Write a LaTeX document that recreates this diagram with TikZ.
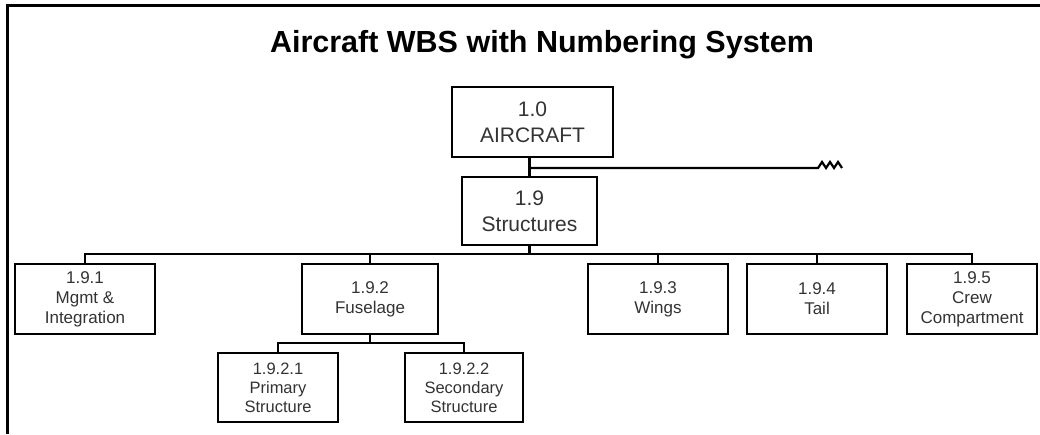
\documentclass[tikz,border=0pt]{standalone}
\usepackage{fontspec}
\setmainfont{Liberation Sans}
\begin{document}
\begin{tikzpicture}[x=1pt,y=-1pt,
  conn/.style={line width=2.2pt, draw=black},
  wbsbox/.style={draw=black, line width=2.4pt, fill=white, align=center, inner sep=0pt, text=black!80},
  topbox/.style={wbsbox, font=\fontsize{21}{26}\selectfont},
  midbox/.style={wbsbox, minimum height=70pt, font=\fontsize{17}{20}\selectfont},
  lowbox/.style={wbsbox, minimum height=69pt, font=\fontsize{16.5}{19}\selectfont},
]
\useasboundingbox (0,0) rectangle (1040,434);
% outer frame
\draw[line width=3pt] (7.5,434) -- (7.5,5.5) -- (1040,5.5);
% title
\node[font=\fontsize{30.5}{36}\selectfont\bfseries] (title) at (542,45) {Aircraft WBS with Numbering System};
% nodes
\node[topbox, minimum width=161pt, minimum height=70pt] (A) at (532.5,122) {1.0\\AIRCRAFT};
\node[topbox, minimum width=135pt, minimum height=68pt] (S) at (529.5,211) {1.9\\Structures};
\node[midbox, minimum width=140pt] (B1) at (85,299) {1.9.1\\Mgmt \&\\Integration};
\node[midbox, minimum width=136pt] (B2) at (370,299) {1.9.2\\Fuselage};
\node[midbox, minimum width=140pt] (B3) at (658,299) {1.9.3\\Wings};
\node[midbox, minimum width=140pt] (B4) at (817,299) {1.9.4\\Tail};
\node[midbox, minimum width=130pt] (B5) at (972,299) {1.9.5\\Crew\\Compartment};
\node[lowbox, minimum width=120pt] (C1) at (278,387.5) {1.9.2.1\\Primary\\Structure};
\node[lowbox, minimum width=118pt] (C2) at (464,387.5) {1.9.2.2\\Secondary\\Structure};
% junction coordinates
\coordinate (j1) at (530,168);
\coordinate (brk) at (818,168);
\coordinate (bus) at (0,254);
\coordinate (fb) at (0,343);
% connectors
\draw[conn] (S.north) -- (S.north |- A.south);
\draw[conn, line join=miter] (S.north |- j1) -- (brk) -- ++(4,-6) -- ++(4,6) -- ++(4,-6) -- ++(4,6) -- ++(4,-6) -- ++(4,6) coordinate (zz);
\draw[conn] (S.south) -- (S.south |- bus);
\draw[conn] (B1.north) |- (B5.north |- bus) -- (B5.north);
\foreach \n in {B2,B3,B4} \draw[conn] (\n.north) -- (\n.north |- bus);
\draw[conn] (B2.south) -- (B2.south |- fb);
\draw[conn] (C1.north) |- (C2.north |- fb) -- (C2.north);
\end{tikzpicture}
\end{document}
